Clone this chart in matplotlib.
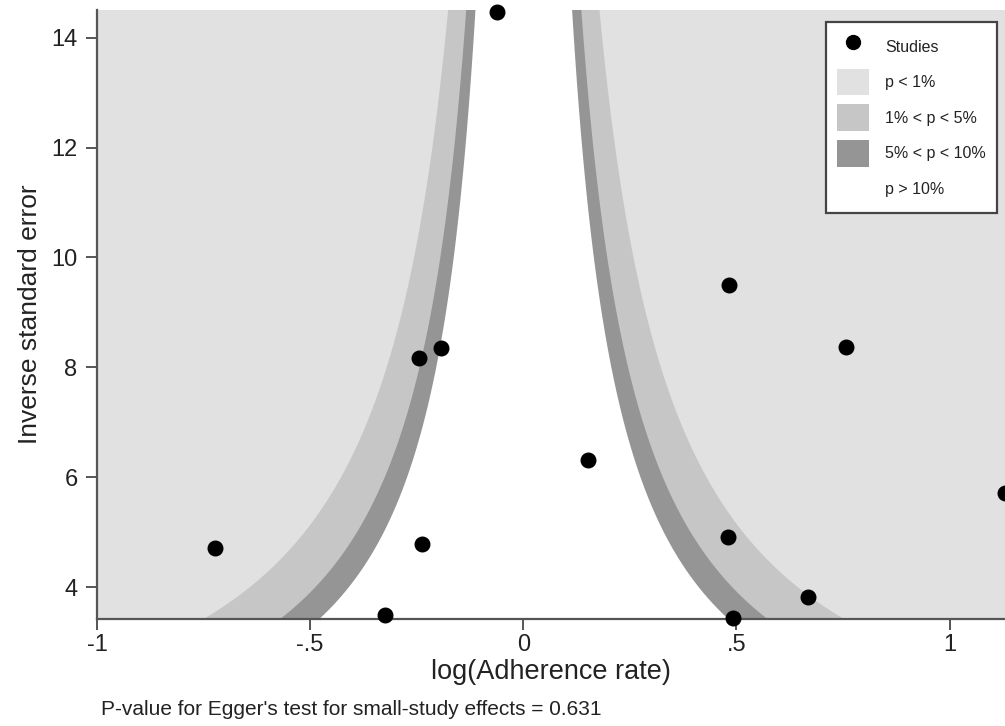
import numpy as np
import matplotlib
matplotlib.use("Agg")
import matplotlib.pyplot as plt
from matplotlib.patches import Patch
from matplotlib.lines import Line2D

plt.rcParams['font.family'] = ['Liberation Sans', 'DejaVu Sans']

# Study effect estimates (log adherence rate) and their inverse standard errors
log_rate = [-0.062, 0.482, 0.758, -0.193, -0.245, 0.151, -0.723, -0.238, 0.480, 1.129, 0.669, -0.325, 0.491]
inv_se = [14.47, 9.50, 8.37, 8.35, 8.17, 6.31, 4.71, 4.78, 4.91, 5.71, 3.82, 3.49, 3.44]

# Significance contours (two-sided z critical values)
z_01, z_05, z_10 = 2.576, 1.960, 1.645
region_labels = ["p < 1%", "1% < p < 5%", "5% < p < 10%", "p > 10%"]
region_colors = ["#e1e1e1", "#c6c6c6", "#959595", "#ffffff"]

x_ticks = [-1, -0.5, 0, 0.5, 1]
x_ticklabels = ["-1", "-.5", "0", ".5", "1"]
y_ticks = [4, 6, 8, 10, 12, 14]

egger_note = "P-value for Egger's test for small-study effects = 0.631"

fig = plt.figure(figsize=(10.05, 7.26), dpi=100)
ax = fig.add_axes([0.0965, 0.1474, 0.9035, 0.8386])
ax.set_xlim(-1, 1.13)
ax.set_ylim(3.42, 14.5)
ax.set_facecolor(region_colors[0])

yy = np.linspace(3.0, 15.0, 600)
for z, col in zip([z_01, z_05, z_10], region_colors[1:]):
    ax.fill_betweenx(yy, -z / yy, z / yy, color=col, lw=0, zorder=1)

ax.scatter(log_rate, inv_se, s=110, color="black", zorder=7, clip_on=False)

for side in ["top", "right"]:
    ax.spines[side].set_visible(False)
for side in ["left", "bottom"]:
    ax.spines[side].set_color("#555555")
    ax.spines[side].set_linewidth(1.6)
    ax.spines[side].set_zorder(6)

ax.set_xticks(x_ticks)
ax.set_xticklabels(x_ticklabels)
ax.set_yticks(y_ticks)
ax.tick_params(axis="both", direction="out", length=8, width=1.4, color="#555555",
               labelsize=17, labelcolor="#222222")
ax.tick_params(axis="y", pad=6)
ax.tick_params(axis="x", pad=3)
ax.set_xlabel("log(Adherence rate)", fontsize=19.5, color="#222222", labelpad=2)
ax.set_ylabel("Inverse standard error", fontsize=19, color="#222222", labelpad=7)

fig.text(101 / 1005, 1 - 715 / 726, egger_note, fontsize=15, color="#222222",
         ha="left", va="baseline")

handles = [Line2D([], [], marker="o", linestyle="none", color="black", markersize=10)]
for lab, col in zip(region_labels, region_colors):
    handles.append(Patch(facecolor=col, edgecolor="none"))
labels = ["Studies"] + region_labels
leg = fig.legend(handles, labels, loc="upper right", bbox_to_anchor=(997 / 1005, 1 - 22 / 726),
                 bbox_transform=fig.transFigure, fontsize=11.5, frameon=True, fancybox=False,
                 framealpha=1, edgecolor="#444444", handlelength=2.0, handleheight=2.2,
                 handletextpad=1.0, labelspacing=0.55, borderpad=0.7, borderaxespad=0)
leg.get_frame().set_linewidth(1.6)
for t in leg.get_texts():
    t.set_color("#222222")

fig.savefig("out.png", dpi=100)
